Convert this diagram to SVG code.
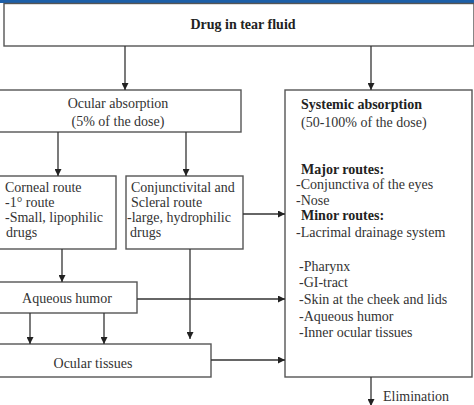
<svg xmlns="http://www.w3.org/2000/svg" width="474" height="405" viewBox="0 0 474 405">
<defs>
<marker id="ah" viewBox="0 0 10 10" refX="10" refY="5" markerWidth="7" markerHeight="7" markerUnits="userSpaceOnUse" orient="auto">
<path d="M0,0 L10,5 L0,10 z" fill="#222"/>
</marker>
<style>
.box{fill:#fff;stroke:#555;stroke-width:1.4}
.t{font-family:"Liberation Serif","Times New Roman",serif;font-size:14px;fill:#333}
.b{font-weight:bold;fill:#222}
.c{text-anchor:middle}
.ln{stroke:#333;stroke-width:1.3;fill:none}
.ar{stroke:#333;stroke-width:1.3;fill:none;marker-end:url(#ah)}
</style>
</defs>
<rect x="0" y="0" width="474" height="405" fill="#fff"/>
<rect x="0" y="0" width="474" height="3" fill="#1d5fa8"/>
<g id="tear">
<rect class="box" x="4" y="3.5" width="470" height="42.5"/>
<text class="t b c" x="243" y="29">Drug in tear fluid</text>
</g>
<g id="ocular">
<rect class="box" x="-2" y="90" width="243" height="42"/>
<text class="t c" x="118" y="108">Ocular absorption</text>
<text class="t c" x="118" y="126">(5% of the dose)</text>
</g>
<g id="systemic">
<rect class="box" x="285" y="90" width="187" height="287"/>
<text class="t b" x="301" y="109">Systemic absorption</text>
<text class="t" x="301" y="127">(50-100% of the dose)</text>
<text class="t b" x="301" y="174">Major routes:</text>
<text class="t" x="296" y="189">-Conjunctiva of the eyes</text>
<text class="t" x="296" y="205">-Nose</text>
<text class="t b" x="301" y="220">Minor routes:</text>
<text class="t" x="296" y="237">-Lacrimal drainage system</text>
<text class="t" x="299" y="271">-Pharynx</text>
<text class="t" x="299" y="287">-GI-tract</text>
<text class="t" x="299" y="304">-Skin at the cheek and lids</text>
<text class="t" x="299" y="321">-Aqueous humor</text>
<text class="t" x="299" y="337">-Inner ocular tissues</text>
</g>
<g id="corneal">
<rect class="box" x="-2" y="176" width="118" height="73"/>
<text class="t" x="5" y="192">Corneal route</text>
<text class="t" x="5" y="207">-1° route</text>
<text class="t" x="5" y="222">-Small, lipophilic</text>
<text class="t" x="6" y="237">drugs</text>
</g>
<g id="conjunctival">
<rect class="box" x="126" y="176" width="117" height="73"/>
<text class="t" x="131" y="192">Conjunctivital and</text>
<text class="t" x="131" y="207">Scleral route</text>
<text class="t" x="127" y="222">-large, hydrophilic</text>
<text class="t" x="130" y="237">drugs</text>
</g>
<g id="aqueous">
<rect class="box" x="-2" y="282" width="139" height="31"/>
<text class="t c" x="67" y="303">Aqueous humor</text>
</g>
<g id="tissues">
<rect class="box" x="-2" y="344" width="213" height="33"/>
<text class="t c" x="93" y="368">Ocular tissues</text>
</g>
<g id="elimination">
<text class="t" x="383" y="401">Elimination</text>
</g>
<g id="connectors">
<line class="ar" x1="125" y1="46" x2="125" y2="90"/>
<line class="ar" x1="371" y1="46" x2="371" y2="90"/>
<line class="ar" x1="58" y1="132" x2="58" y2="176"/>
<line class="ar" x1="186" y1="132" x2="186" y2="176"/>
<line class="ar" x1="243" y1="214" x2="285" y2="214"/>
<line class="ar" x1="62" y1="249" x2="62" y2="282"/>
<line class="ar" x1="190" y1="249" x2="190" y2="339"/>
<line class="ar" x1="137" y1="299" x2="285" y2="299"/>
<line class="ar" x1="30" y1="313" x2="30" y2="344"/>
<line class="ar" x1="104" y1="313" x2="104" y2="344"/>
<line class="ar" x1="211" y1="360" x2="285" y2="360"/>
<line class="ar" x1="371" y1="377" x2="371" y2="406"/>
</g>
</svg>
